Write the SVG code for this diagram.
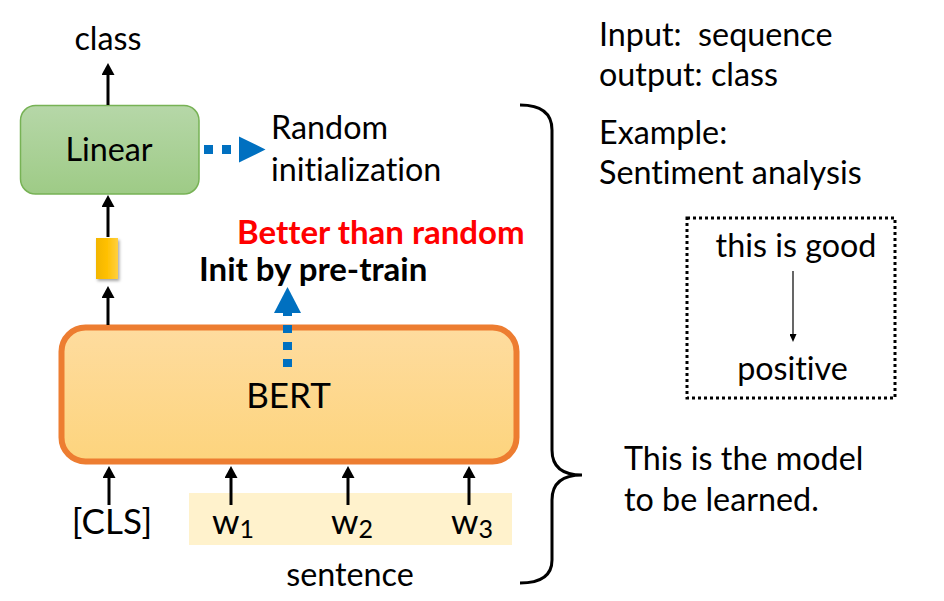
<svg xmlns="http://www.w3.org/2000/svg" width="944" height="601" viewBox="0 0 944 601">
<style>
  .t { font-family: Lato, "Liberation Sans", sans-serif; font-size: 32.3px; fill: #000; font-variant-ligatures: none; }
  .b { font-weight: bold; font-size: 33px; }
  .conn { stroke: #000; stroke-width: 3; fill: none; }
  .blue { stroke: #0070c0; stroke-width: 9; fill: none; }
</style>
<defs>
  <linearGradient id="gLin" x1="0" y1="0" x2="0" y2="1">
    <stop offset="0" stop-color="#b6d7a8"/>
    <stop offset="1" stop-color="#9ecb86"/>
  </linearGradient>
  <linearGradient id="gBert" x1="0" y1="0" x2="0" y2="1">
    <stop offset="0" stop-color="#fedc9f"/>
    <stop offset="1" stop-color="#fdd47d"/>
  </linearGradient>
  <linearGradient id="gVec" x1="0" y1="0" x2="1" y2="0">
    <stop offset="0" stop-color="#f2b500"/>
    <stop offset="0.5" stop-color="#ffc000"/>
    <stop offset="1" stop-color="#ffd040"/>
  </linearGradient>
  <filter id="sh" x="-50%" y="-50%" width="200%" height="200%">
    <feDropShadow dx="1.5" dy="2" stdDeviation="1.5" flood-color="#000" flood-opacity="0.35"/>
  </filter>
  <marker id="ah" viewBox="0 0 12 13" refX="6" refY="6.5" markerWidth="12" markerHeight="13" markerUnits="userSpaceOnUse" orient="auto">
    <path d="M0,0 L12,6.5 L0,13 z" fill="#000"/>
  </marker>
  <marker id="ahs" viewBox="0 0 8 7" refX="4" refY="3.5" markerWidth="8" markerHeight="7" markerUnits="userSpaceOnUse" orient="auto">
    <path d="M0,0 L8,3.5 L0,7 z" fill="#000"/>
  </marker>
</defs>

<g id="sentence-bg">
  <rect x="189" y="493" width="323" height="52" fill="#fff2cc"/>
</g>

<g id="class-label">
  <text class="t" x="108" y="50" text-anchor="middle">class</text>
</g>

<g id="linear">
  <rect x="20.5" y="105.5" width="178.5" height="88.5" rx="15" fill="url(#gLin)" stroke="#77b255" stroke-width="1.5"/>
  <text class="t" x="109" y="161" text-anchor="middle">Linear</text>
</g>

<g id="random-init">
  <text class="t" x="271" y="139">Random</text>
  <text class="t" x="271" y="181">initialization</text>
</g>

<g id="vector">
  <rect x="96" y="238" width="22" height="41" fill="url(#gVec)" filter="url(#sh)"/>
</g>

<g id="better-label">
  <text class="t b" x="237" y="244" style="fill:#ff0000">Better than random</text>
</g>
<g id="init-label">
  <text class="t b" x="199" y="281">Init by pre-train</text>
</g>

<g id="bert">
  <rect x="61.5" y="327.5" width="455" height="134" rx="24" fill="url(#gBert)" stroke="#ed7d31" stroke-width="6"/>
  <text class="t" x="288.5" y="408" text-anchor="middle" style="font-size:35px">BERT</text>
</g>

<g id="cls">
  <text class="t" x="112" y="534" text-anchor="middle" style="font-size:35px">[CLS]</text>
</g>
<g id="w1">
  <text class="t" x="212" y="534" style="font-size:35px">w<tspan style="font-size:25px" dy="4">1</tspan></text>
</g>
<g id="w2">
  <text class="t" x="331" y="534" style="font-size:35px">w<tspan style="font-size:25px" dy="4">2</tspan></text>
</g>
<g id="w3">
  <text class="t" x="451" y="534" style="font-size:35px">w<tspan style="font-size:25px" dy="4">3</tspan></text>
</g>
<g id="sentence-label">
  <text class="t" x="350" y="586" text-anchor="middle">sentence</text>
</g>

<g id="info">
  <text class="t" x="599" y="46" xml:space="preserve">Input:  sequence</text>
  <text class="t" x="599" y="86">output: class</text>
  <text class="t" x="599" y="144">Example:</text>
  <text class="t" x="599" y="184">Sentiment analysis</text>
</g>

<g id="example-box">
  <rect x="687" y="218" width="208" height="180" fill="none" stroke="#000" stroke-width="3" stroke-dasharray="3 3"/>
  <text class="t" x="796" y="257" text-anchor="middle">this is good</text>
  <text class="t" x="792.5" y="380" text-anchor="middle">positive</text>
</g>

<g id="model-note">
  <text class="t" x="624" y="470">This is the model</text>
  <text class="t" x="624" y="511">to be learned.</text>
</g>

<g id="connectors">
  <line class="conn" x1="108" y1="105" x2="108" y2="69" marker-end="url(#ah)"/>
  <line class="conn" x1="108" y1="237" x2="108" y2="201" marker-end="url(#ah)"/>
  <line class="conn" x1="108" y1="325" x2="108" y2="292" marker-end="url(#ah)"/>
  <line class="conn" x1="109" y1="505" x2="109" y2="472" marker-end="url(#ah)"/>
  <line class="conn" x1="231" y1="505" x2="231" y2="472" marker-end="url(#ah)"/>
  <line class="conn" x1="348" y1="505" x2="348" y2="472" marker-end="url(#ah)"/>
  <line class="conn" x1="469" y1="505" x2="469" y2="472" marker-end="url(#ah)"/>
  <line x1="793" y1="271" x2="793" y2="338" stroke="#000" stroke-width="1.2" marker-end="url(#ahs)"/>
  <line class="blue" x1="204" y1="149.5" x2="241" y2="149.5" stroke-dasharray="9 9"/>
  <polygon points="239,136.5 265.5,149.5 239,162.5" fill="#0070c0"/>
  <line class="blue" x1="287.5" y1="367" x2="287.5" y2="306" stroke-dasharray="8 9"/>
  <polygon points="274,313 287.5,287 301,313" fill="#0070c0"/>
  <path class="conn" d="M520,105 C540,105 552,112 552,130 L552,450 C552,467 563,475 582,475 C563,475 552,483 552,500 L552,560 C552,576 540,583 520,583"/>
</g>
</svg>
